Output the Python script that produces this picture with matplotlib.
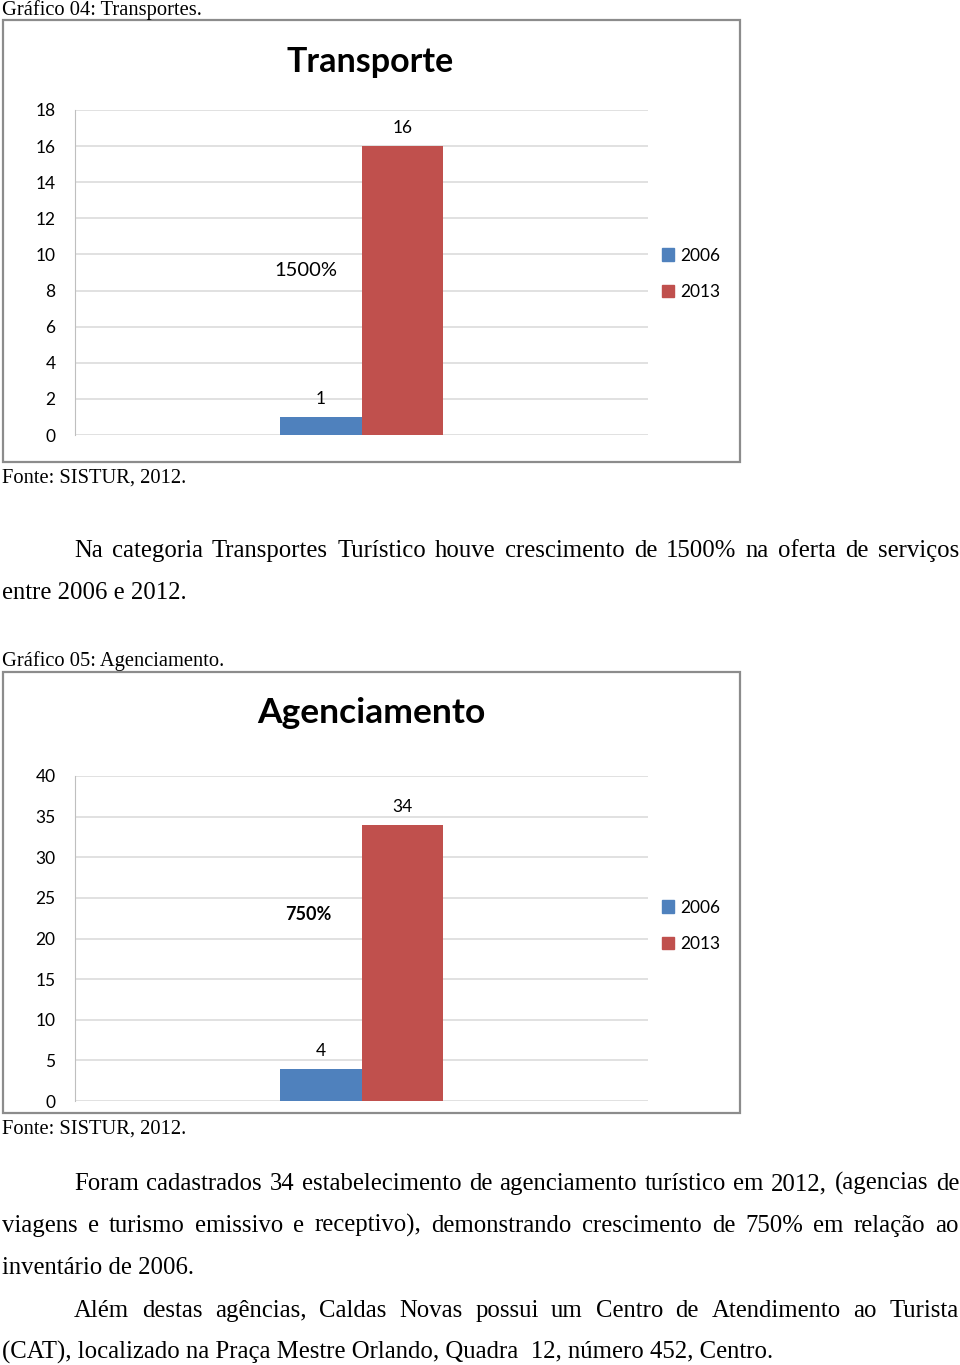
import matplotlib
matplotlib.use("Agg")
import matplotlib.pyplot as plt
from matplotlib.patches import Rectangle, Patch

# ---------------- data ----------------
years = ["2006", "2013"]
colors = ["#4f81bd", "#c0504d"]
transporte_values = [1, 16]
agenciamento_values = [4, 34]
transporte_growth = "1500%"
agenciamento_growth = "750%"
transporte_ticks = [0, 2, 4, 6, 8, 10, 12, 14, 16, 18]
agenciamento_ticks = [0, 5, 10, 15, 20, 25, 30, 35, 40]

W, H = 960, 1365
fig = plt.figure(figsize=(W / 100, H / 100), dpi=100)
fig.patch.set_facecolor("white")

SERIF = "Liberation Serif"
SANS = "Lato"


def fx(x):
    return x / W


def fy(y):
    return 1 - y / H


def px_rect(x0, y0, x1, y1):
    return [x0 / W, 1 - y1 / H, (x1 - x0) / W, (y1 - y0) / H]


def box(x0, y0, x1, y1):
    r = Rectangle((fx(x0), fy(y1)), fx(x1) - fx(x0), fy(y0) - fy(y1),
                  transform=fig.transFigure, fill=False,
                  edgecolor="#8c8c8c", lw=1.6, zorder=0)
    fig.add_artist(r)


def chart(plot_rect, values, ticks, title, title_xy, title_size, growth,
          growth_xy, growth_bold, growth_size, legend_xy, tick_size=12.5):
    ax = fig.add_axes(px_rect(*plot_rect))
    w = 0.142
    xs = [-w / 2, w / 2]
    bars = ax.bar(xs, values, width=w, color=colors, zorder=3)
    ax.set_xlim(-0.5, 0.5)
    ax.set_ylim(ticks[0], ticks[-1])
    ax.set_yticks(ticks)
    ax.set_xticks([])
    ax.grid(axis="y", color="#d9d9d9", lw=1.1, zorder=0)
    for s in ["top", "right", "bottom"]:
        ax.spines[s].set_visible(False)
    ax.spines["left"].set_color("#bfbfbf")
    ax.tick_params(axis="y", length=0, pad=14, labelsize=tick_size)
    for lab in ax.get_yticklabels():
        lab.set_fontfamily(SANS)
    for b, v in zip(bars, values):
        ax.annotate(str(v), (b.get_x() + b.get_width() / 2, b.get_height()),
                    xytext=(0, 7), textcoords="offset points",
                    ha="center", va="bottom", fontsize=12.5, family=SANS)
    ax.text(growth_xy[0], growth_xy[1], growth, ha="center", va="center",
            fontsize=growth_size, family=SANS,
            fontweight="bold" if growth_bold else "normal")
    fig.text(fx(title_xy[0]), fy(title_xy[1]), title, ha="center",
             va="center", fontsize=title_size, fontweight="bold", family=SANS)
    handles = [Patch(facecolor=c, edgecolor=c) for c in colors]
    ax.legend(handles, years, loc="center left",
              bbox_to_anchor=(fx(legend_xy[0]), fy(legend_xy[1])),
              bbox_transform=fig.transFigure, frameon=False,
              prop={"family": SANS, "size": 12.5},
              handlelength=0.7, handleheight=0.7, handletextpad=0.35,
              labelspacing=1.2, borderpad=0, borderaxespad=0)
    return ax


# chart 1
box(3, 20, 740, 462)
chart((75, 110, 648, 435), transporte_values, transporte_ticks,
      "Transporte", (370, 62), 24.5, transporte_growth, (-0.097, 9.1), False,
      14.5, (662, 274))

# chart 2
box(3, 672, 740, 1113)
chart((75, 776, 648, 1101), agenciamento_values, agenciamento_ticks,
      "Agenciamento", (371, 713), 25.5, agenciamento_growth, (-0.092, 22.9),
      True, 13, (662, 926))

# ---------------- document text ----------------
renderer = fig.canvas.get_renderer()


def line(text, x, y, size):
    fig.text(fx(x), fy(y), text, ha="left", va="baseline", fontsize=size,
             family=SERIF, color="black")


def justified(text, x0, x1, y, size):
    words = text.split(" ")
    objs = [fig.text(0, fy(y), wd, ha="left", va="baseline", fontsize=size,
                     family=SERIF, color="black") for wd in words]
    widths = [o.get_window_extent(renderer).width for o in objs]
    gap = (x1 - x0 - sum(widths)) / (len(words) - 1)
    x = x0
    for o, wdt in zip(objs, widths):
        o.set_x(fx(x))
        x += wdt + gap


CAP = 14.8
BODY = 17.8

line("Gráfico 04: Transportes.", 2, 15, CAP)
line("Fonte: SISTUR, 2012.", 2, 483, CAP)
justified("Na categoria Transportes Turístico houve crescimento de 1500% na oferta de serviços",
          74, 959, 557, BODY)
line("entre 2006 e 2012.", 2, 599, BODY)
line("Gráfico 05: Agenciamento.", 2, 666, CAP)
line("Fonte: SISTUR, 2012.", 2, 1134, CAP)
justified("Foram cadastrados 34 estabelecimento de agenciamento turístico em 2012, (agencias de",
          74, 959, 1190, BODY)
justified("viagens e turismo emissivo e receptivo), demonstrando crescimento de 750% em relação ao",
          2, 959, 1232, BODY)
line("inventário de 2006.", 2, 1274, BODY)
justified("Além destas agências, Caldas Novas possui um Centro de Atendimento ao Turista",
          74, 959, 1317, BODY)
line("(CAT), localizado na Praça Mestre Orlando, Quadra  12, número 452, Centro.", 2, 1359, BODY)

fig.savefig("out.png", dpi=100, facecolor="white")
